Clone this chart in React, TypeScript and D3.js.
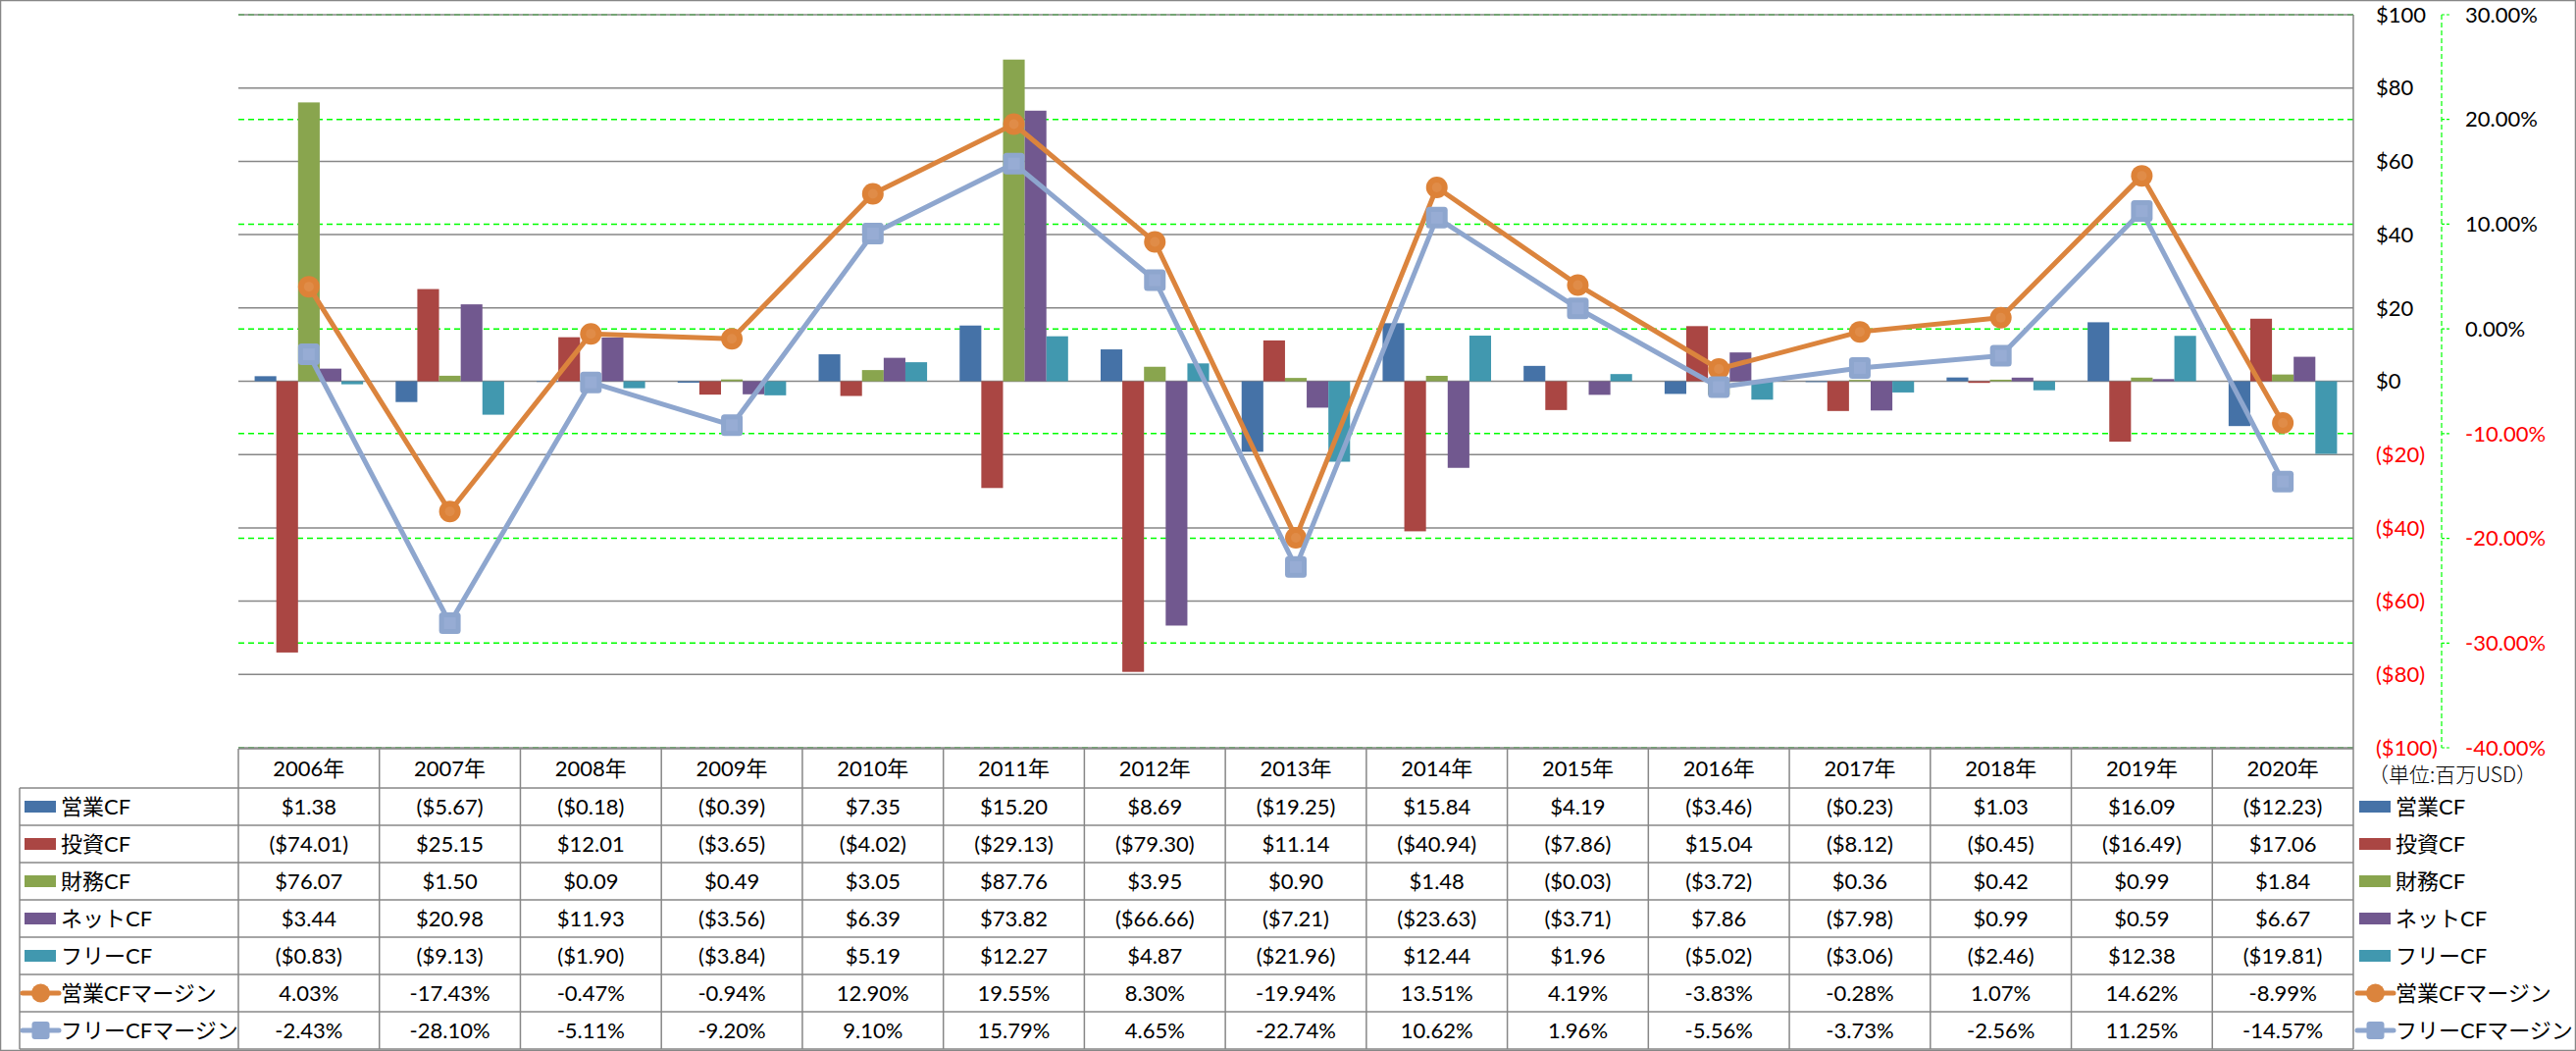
import React from "react";
import * as d3 from "d3";

const years = ["2006年","2007年","2008年","2009年","2010年","2011年","2012年","2013年","2014年","2015年","2016年","2017年","2018年","2019年","2020年"];

const opCF = [1.38,-5.67,-0.18,-0.39,7.35,15.20,8.69,-19.25,15.84,4.19,-3.46,-0.23,1.03,16.09,-12.23];
const invCF = [-74.01,25.15,12.01,-3.65,-4.02,-29.13,-79.30,11.14,-40.94,-7.86,15.04,-8.12,-0.45,-16.49,17.06];
const finCF = [76.07,1.50,0.09,0.49,3.05,87.76,3.95,0.90,1.48,-0.03,-3.72,0.36,0.42,0.99,1.84];
const netCF = [3.44,20.98,11.93,-3.56,6.39,73.82,-66.66,-7.21,-23.63,-3.71,7.86,-7.98,0.99,0.59,6.67];
const freeCF = [-0.83,-9.13,-1.90,-3.84,5.19,12.27,4.87,-21.96,12.44,1.96,-5.02,-3.06,-2.46,12.38,-19.81];
const opMargin = [4.03,-17.43,-0.47,-0.94,12.90,19.55,8.30,-19.94,13.51,4.19,-3.83,-0.28,1.07,14.62,-8.99];
const freeMargin = [-2.43,-28.10,-5.11,-9.20,9.10,15.79,4.65,-22.74,10.62,1.96,-5.56,-3.73,-2.56,11.25,-14.57];

const barNames = ["営業CF","投資CF","財務CF","ネットCF","フリーCF"];
const barColors = ["#4572A7","#AA4643","#89A54E","#71588F","#4198AF"];
const lineNames = ["営業CFマージン","フリーCFマージン"];
const lineColors = ["#DB843D","#8EA6CE"];

const leftTicks = [100,80,60,40,20,0,-20,-40,-60,-80,-100];
const pctTicks = [30,20,10,0,-10,-20,-30,-40];

const W = 2626, H = 1071;
const PL = 243, PR = 2399, PT = 15, PB = 762;
const ROW0 = 763, HEADER_H = 40, ROW_H = 38;
const GRAY = "#878787";
const FONT = "Lato, 'Noto Sans CJK JP', sans-serif";
const JFONT = "'Noto Sans CJK JP', sans-serif";

function fmtMoney(v: number) {
  return v < 0 ? `($${(-v).toFixed(2)})` : `$${v.toFixed(2)}`;
}

export default function App() {
  const x = d3.scaleBand<string>().domain(years).range([PL, PR]).paddingInner(0).paddingOuter(0);
  const bw = x.bandwidth();
  const barW = bw / 6.5;
  const xs = d3.scaleBand<string>().domain(barNames).range([barW * 0.75, bw - barW * 0.75]).padding(0);
  const y = d3.scaleLinear().domain([-100, 100]).range([PB, PT]);
  const yp = d3.scaleLinear().domain([-40, 30]).range([PB, PT]);

  const barSeries = [opCF, invCF, finCF, netCF, freeCF];
  const lineSeries = [opMargin, freeMargin];
  const cx = (i: number) => (x(years[i]) as number) + bw / 2;

  const lineGen = (vals: number[]) =>
    d3.line<number>().x((_, i) => cx(i)).y((d) => yp(d))(vals) as string;

  const rowY = (r: number) => ROW0 + HEADER_H + r * ROW_H;
  const allRows = [...barSeries, ...lineSeries];
  const allNames = [...barNames, ...lineNames];
  const tableBottom = rowY(7);

  const legendMark = (r: number, x0: number) => {
    const cy = rowY(r) + ROW_H / 2;
    if (r < 5) {
      return <rect x={x0 + 2} y={cy - 6} width={32} height={12} fill={barColors[r]} />;
    }
    const c = lineColors[r - 5];
    return (
      <g>
        <line x1={x0} x2={x0 + 37} y1={cy} y2={cy} stroke={c} strokeWidth={5} strokeLinecap="round" />
        {r === 5 ? (
          <circle cx={x0 + 18.5} cy={cy} r={9.5} fill={c} />
        ) : (
          <rect x={x0 + 9.5} y={cy - 9} width={18} height={18} rx={3} fill={c} />
        )}
      </g>
    );
  };

  return (
    <svg width={W} height={H} style={{ position: "absolute", left: 0, top: 0, background: "#fff" }} fontFamily={FONT}>
      <rect x={0.5} y={0.5} width={W - 1} height={H - 1} fill="#fff" stroke={GRAY} strokeWidth={1.5} />

      {pctTicks.map((t) => (
        <line key={"pg" + t} x1={PL} x2={PR} y1={yp(t)} y2={yp(t)} stroke="#00FF00" strokeWidth={1.5} strokeDasharray="6,4" />
      ))}
      {leftTicks.map((t) => (
        <line key={"g" + t} x1={PL} x2={PR} y1={y(t)} y2={y(t)} stroke={GRAY} strokeWidth={1.5} />
      ))}

      {barSeries.map((vals, s) => (
        <g key={"s" + s} fill={barColors[s]}>
          {vals.map((v, i) => {
            const bx = (x(years[i]) as number) + (xs(barNames[s]) as number);
            const y0 = y(0), y1 = y(v);
            return <rect key={i} x={bx} y={Math.min(y0, y1)} width={xs.bandwidth()} height={Math.abs(y1 - y0)} />;
          })}
        </g>
      ))}

      {lineSeries.map((vals, s) => (
        <g key={"l" + s}>
          <path d={lineGen(vals)} fill="none" stroke={lineColors[s]} strokeWidth={5} strokeLinejoin="round" />
          {vals.map((v, i) =>
            s === 0 ? (
              <g key={i}>
                <circle cx={cx(i)} cy={yp(v)} r={11} fill="#DD8238" />
                <circle cx={cx(i)} cy={yp(v)} r={5} fill="#E08C48" />
              </g>
            ) : (
              <g key={i}>
                <rect x={cx(i) - 11} y={yp(v) - 11} width={22} height={22} rx={3.5} fill="#8EA6CE" />
                <rect x={cx(i) - 6} y={yp(v) - 6} width={12} height={12} fill="#97ACD4" />
              </g>
            )
          )}
        </g>
      ))}

      <line x1={PR} x2={PR} y1={PT} y2={tableBottom} stroke={GRAY} strokeWidth={1.5} />
      {leftTicks.map((t) => (
        <text key={"lt" + t} x={2422} y={y(t)} dy="0.35em" fontSize={22} fill={t < 0 ? "#FF0000" : "#000"}>
          {t < 0 ? `($${-t})` : `$${t}`}
        </text>
      ))}

      <line x1={2489} x2={2489} y1={PT} y2={PB} stroke="#00FF00" strokeWidth={1.2} strokeDasharray="5,3" />
      {pctTicks.map((t) => (
        <g key={"pt" + t}>
          <line x1={2489} x2={2497} y1={yp(t)} y2={yp(t)} stroke="#00FF00" strokeWidth={1.2} strokeDasharray="3,2" />
          <text x={2513} y={yp(t)} dy="0.35em" fontSize={22} fill={t < 0 ? "#FF0000" : "#000"}>
            {`${t.toFixed(2)}%`}
          </text>
        </g>
      ))}
      <text x={2414} y={790} dy="0.35em" fontSize={21} fontFamily={JFONT} fontWeight={300} fill="#000">（単位:百万USD）</text>

      <g stroke={GRAY} strokeWidth={1.5}>
        <line x1={PL} x2={PR} y1={ROW0} y2={ROW0} />
        {d3.range(8).map((r) => (
          <line key={"h" + r} x1={20} x2={PR} y1={rowY(r)} y2={rowY(r)} />
        ))}
        <line x1={20} x2={20} y1={rowY(0)} y2={tableBottom} />
        {years.map((yr) => (
          <line key={"v" + yr} x1={x(yr) as number} x2={x(yr) as number} y1={ROW0} y2={tableBottom} />
        ))}
      </g>
      {years.map((yr, i) => (
        <text key={"yr" + yr} x={cx(i)} y={ROW0 + HEADER_H / 2} dy="0.35em" textAnchor="middle" fontSize={22} fill="#000">
          {yr}
        </text>
      ))}
      {allRows.map((vals, r) => (
        <g key={"row" + r}>
          {legendMark(r, 23)}
          <text x={62} y={rowY(r) + ROW_H / 2} dy="0.35em" fontSize={22} fill="#000">{allNames[r]}</text>
          {legendMark(r, 2403)}
          <text x={2442} y={rowY(r) + ROW_H / 2} dy="0.35em" fontSize={22} fill="#000">{allNames[r]}</text>
          {vals.map((v, i) => (
            <text key={i} x={cx(i)} y={rowY(r) + ROW_H / 2} dy="0.35em" textAnchor="middle" fontSize={22} fill="#000">
              {r < 5 ? fmtMoney(v) : `${v.toFixed(2)}%`}
            </text>
          ))}
        </g>
      ))}
    </svg>
  );
}
